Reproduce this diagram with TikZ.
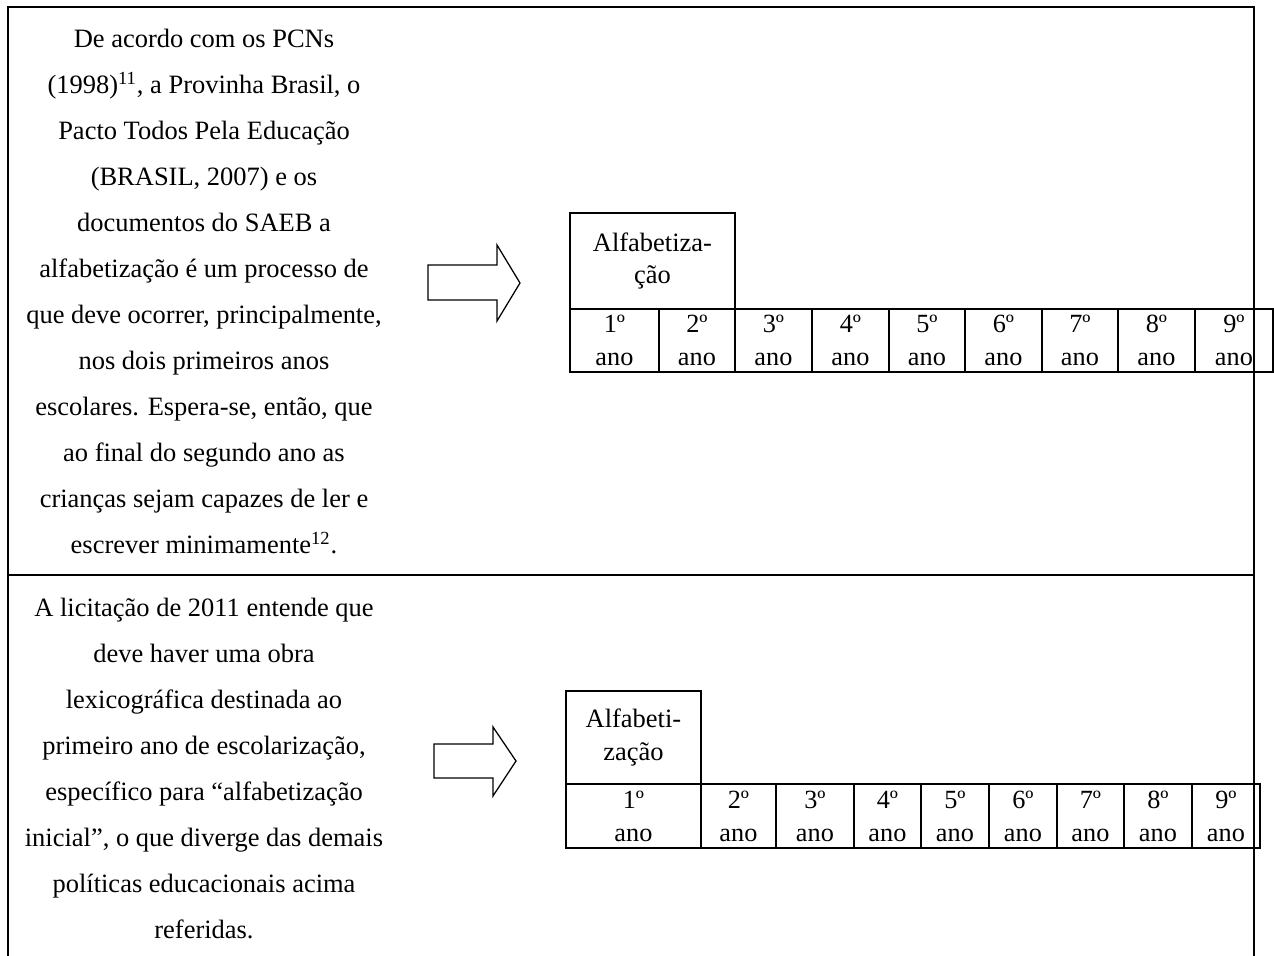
\documentclass[tikz,border=0pt]{standalone}
\usepackage{fontspec}
\setmainfont{Liberation Serif}
\usepackage{tikz}

\newcommand\pxl{0.476pt}

\tikzset{
  frame/.style={line width=1pt},
  para/.style={align=center,inner sep=0pt,font=\fontsize{12.6}{21.9}\selectfont},
  alfabox/.style={draw,line width=0.9pt,align=center,inner sep=0pt,font=\fontsize{12.6}{15.3}\selectfont},
  yearcell/.style={draw,line width=0.9pt,align=center,inner sep=0pt,anchor=north west,font=\fontsize{12.5}{15.7}\selectfont},
  blockarrow/.style={draw,line width=0.6pt}
}

\begin{document}
\begin{tikzpicture}[x=0.476pt,y=-0.476pt]
\useasboundingbox (0,0) rectangle (1274,956);
% table frame
\draw [frame] (8,956) -- (8,7) -- (1254,7) -- (1254,956);
\draw [frame] (8,575) -- (1254,575);
% first row
\node (txtA) at (204,29) [para,anchor=north] {De acordo com os PCNs\\(1998)\textsuperscript{11}, a Provinha Brasil, o\\Pacto Todos Pela Educação\\(BRASIL, 2007) e os\\documentos do SAEB a\\alfabetização é um processo de\\que deve ocorrer, principalmente,\\nos dois primeiros anos\\escolares. Espera-se, então, que\\ao final do segundo ano as\\crianças sejam capazes de ler e\\escrever minimamente\textsuperscript{12}.};
\draw [blockarrow] (428,265) -- (497,265) -- (497,245) -- (520,283) -- (497,321) -- (497,300) -- (428,300) -- cycle;
\node (alfaA) at (569,212) [alfabox,anchor=north west,minimum width=165*\pxl,minimum height=96*\pxl] {Alfabetiza-\\ção};
\node (ta1) at (569,308) [yearcell,minimum width=89*\pxl,minimum height=63*\pxl] {1º\\ano};
\node (ta2) at (658,308) [yearcell,minimum width=76*\pxl,minimum height=63*\pxl] {2º\\ano};
\node (ta3) at (734,308) [yearcell,minimum width=77*\pxl,minimum height=63*\pxl] {3º\\ano};
\node (ta4) at (811,308) [yearcell,minimum width=77*\pxl,minimum height=63*\pxl] {4º\\ano};
\node (ta5) at (888,308) [yearcell,minimum width=76*\pxl,minimum height=63*\pxl] {5º\\ano};
\node (ta6) at (964,308) [yearcell,minimum width=77*\pxl,minimum height=63*\pxl] {6º\\ano};
\node (ta7) at (1041,308) [yearcell,minimum width=76*\pxl,minimum height=63*\pxl] {7º\\ano};
\node (ta8) at (1117,308) [yearcell,minimum width=77*\pxl,minimum height=63*\pxl] {8º\\ano};
\node (ta9) at (1194,308) [yearcell,minimum width=78*\pxl,minimum height=63*\pxl] {9º\\ano};
% second row
\node (txtB) at (204,598) [para,anchor=north] {A licitação de 2011 entende que\\deve haver uma obra\\lexicográfica destinada ao\\primeiro ano de escolarização,\\específico para “alfabetização\\inicial”, o que diverge das demais\\políticas educacionais acima\\referidas.};
\draw [blockarrow] (434,744) -- (493,744) -- (493,727) -- (516,761) -- (493,796) -- (493,778) -- (434,778) -- cycle;
\node (alfaB) at (565,690) [alfabox,anchor=north west,minimum width=135*\pxl,minimum height=93*\pxl] {Alfabeti-\\zação};
\node (tb1) at (565,783) [yearcell,minimum width=135*\pxl,minimum height=64*\pxl] {1º\\ano};
\node (tb2) at (700,783) [yearcell,minimum width=75*\pxl,minimum height=64*\pxl] {2º\\ano};
\node (tb3) at (775,783) [yearcell,minimum width=78*\pxl,minimum height=64*\pxl] {3º\\ano};
\node (tb4) at (853,783) [yearcell,minimum width=67*\pxl,minimum height=64*\pxl] {4º\\ano};
\node (tb5) at (920,783) [yearcell,minimum width=68*\pxl,minimum height=64*\pxl] {5º\\ano};
\node (tb6) at (988,783) [yearcell,minimum width=68*\pxl,minimum height=64*\pxl] {6º\\ano};
\node (tb7) at (1056,783) [yearcell,minimum width=67*\pxl,minimum height=64*\pxl] {7º\\ano};
\node (tb8) at (1123,783) [yearcell,minimum width=68*\pxl,minimum height=64*\pxl] {8º\\ano};
\node (tb9) at (1191,783) [yearcell,minimum width=68*\pxl,minimum height=64*\pxl] {9º\\ano};
\end{tikzpicture}
\end{document}
